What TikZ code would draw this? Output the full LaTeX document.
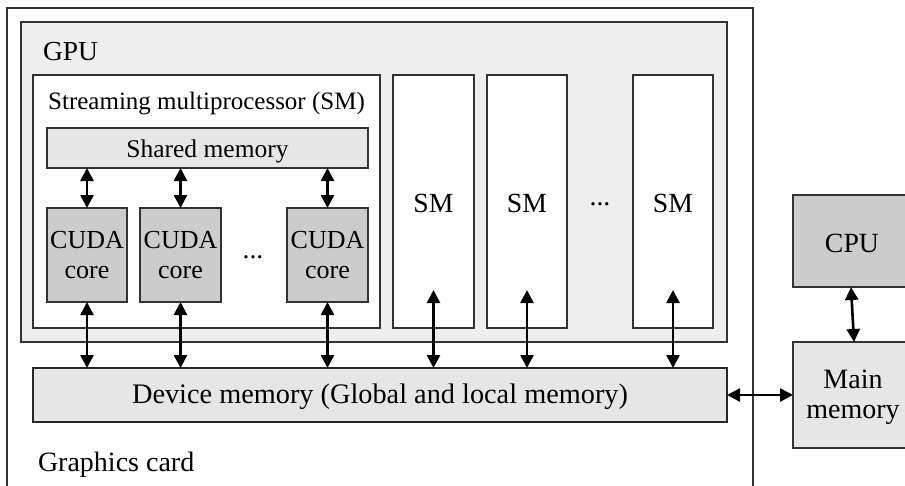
\documentclass[tikz,border=0pt]{standalone}
\usepackage{fontspec}
\setmainfont{Liberation Serif}
\usetikzlibrary{arrows.meta}
\definecolor{gpufill}{HTML}{EEEEEE}
\definecolor{memfill}{HTML}{E6E6E6}
\definecolor{corefill}{HTML}{CCCCCC}
\definecolor{edgecol}{HTML}{333333}
\begin{document}
\begin{tikzpicture}[x=1pt,y=-1pt,
  box/.style={draw=edgecol,line width=1.1pt,inner sep=0pt,outer sep=0pt,anchor=north west},
  lbl/.style={inner sep=0pt,outer sep=0pt,font=\fontsize{#1}{#1}\selectfont},
  lbl/.default=28,
  dbl/.style={line width=2.6pt,{Triangle[length=13pt,width=13pt]}-{Triangle[length=13pt,width=13pt]}},
]
\useasboundingbox (0,0) rectangle (905,485);
\clip (0,0) rectangle (905,485);
% boxes
\node[box,fill=white,minimum width=746pt,minimum height=540pt] (card) at (7,8) {};
\node[box,fill=gpufill,minimum width=706pt,minimum height=320pt] (gpu) at (21,22) {};
\node[box,fill=white,minimum width=347pt,minimum height=253pt] (sm) at (33,75) {};
\node[box,fill=memfill,minimum width=321pt,minimum height=40pt] (shm) at (47,128) {};
\node[box,fill=corefill,minimum width=80pt,minimum height=94pt] (core1) at (47,208) {};
\node[box,fill=corefill,minimum width=81pt,minimum height=94pt] (core2) at (140,208) {};
\node[box,fill=corefill,minimum width=81pt,minimum height=94pt] (core3) at (287,208) {};
\node[box,fill=white,minimum width=81pt,minimum height=253pt] (sm2) at (393,75) {};
\node[box,fill=white,minimum width=80pt,minimum height=253pt] (sm3) at (487,75) {};
\node[box,fill=white,minimum width=80pt,minimum height=253pt] (sm4) at (633,75) {};
\node[box,fill=memfill,line width=1.6pt,draw=black!85,minimum width=694pt,minimum height=54pt] (dev) at (33,368) {};
\node[box,fill=corefill,minimum width=118pt,minimum height=92pt] (cpu) at (793,195) {};
\node[box,fill=memfill,minimum width=120pt,minimum height=106pt] (main) at (793,342) {};
% baseline helpers
\coordinate (bGPU) at (43,60);
\coordinate (bSM) at (0,109);
\coordinate (bShm) at (0,157);
\coordinate (bCuda) at (0,248);
\coordinate (bCore) at (0,278);
\coordinate (bSMs) at (0,212);
\coordinate (bDev) at (0,403);
\coordinate (bCard) at (38,471);
\coordinate (bCpu) at (0,252);
\coordinate (bMain) at (0,388);
\coordinate (bMem) at (0,418);
\coordinate (dots1) at (253,258);
\coordinate (dots2) at (600,205);
% labels
\node[lbl=27.5,anchor=base west] (tgpu) at (bGPU) {GPU};
\node[lbl=25,anchor=base] (tsm) at (sm.center |- bSM) {Streaming multiprocessor (SM)};
\node[lbl=25.5,anchor=base] (tshm) at (shm.center |- bShm) {Shared memory};
\node[lbl=26,anchor=base] (c1a) at (core1.center |- bCuda) {CUDA};
\node[lbl=26,anchor=base] (c1b) at (core1.center |- bCore) {core};
\node[lbl=26,anchor=base] (c2a) at (core2.center |- bCuda) {CUDA};
\node[lbl=26,anchor=base] (c2b) at (core2.center |- bCore) {core};
\node[lbl=26,anchor=base] (c3a) at (core3.center |- bCuda) {CUDA};
\node[lbl=26,anchor=base] (c3b) at (core3.center |- bCore) {core};
\node[lbl=27.5,anchor=base] (d1) at (dots1) {...};
\node[lbl=27.7,anchor=base] (s2) at (sm2.center |- bSMs) {SM};
\node[lbl=27.7,anchor=base] (s3) at (sm3.center |- bSMs) {SM};
\node[lbl=27.7,anchor=base] (d2) at (dots2) {...};
\node[lbl=27.7,anchor=base] (s4) at (sm4.center |- bSMs) {SM};
\node[lbl=28.3,anchor=base] (tdev) at (dev.center |- bDev) {Device memory (Global and local memory)};
\node[lbl=28,anchor=base west] (tcard) at (bCard) {Graphics card};
\node[lbl=27.8,anchor=base] (tcpu) at (cpu.center |- bCpu) {CPU};
\node[lbl=28,anchor=base] (tmain) at (main.center |- bMain) {Main};
\node[lbl=28,anchor=base] (tmem) at (main.center |- bMem) {memory};
% arrows shared memory <-> cores, cores <-> device memory
\foreach \c in {core1,core2,core3}{
  \draw[dbl] (\c.north |- shm.south) -- (\c.north);
  \draw[dbl] (\c.south) -- (\c.south |- dev.north);
}
% SM arrows
\foreach \s in {sm2,sm3,sm4}{
  \coordinate (a\s) at ([yshift=38pt]\s.south);
  \draw[dbl] (a\s) -- (a\s |- dev.north);
}
\draw[dbl] (dev.east) -- (dev.east -| main.west);
\draw[dbl] ([xshift=-1pt]cpu.south) -- ([xshift=1pt]main.north);
\end{tikzpicture}
\end{document}
